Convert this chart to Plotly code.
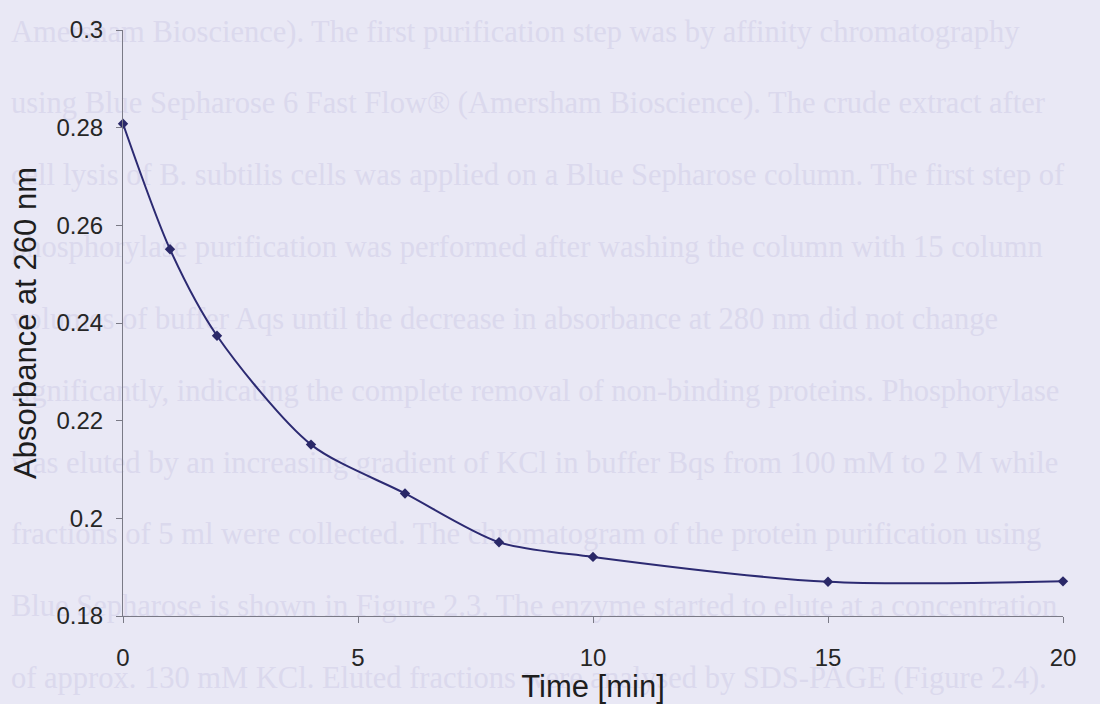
import plotly.graph_objects as go

# Data
time_min = [0, 1, 2, 4, 6, 8, 10, 15, 20]
absorbance = [0.2808, 0.2551, 0.2374, 0.2151, 0.2051, 0.1951, 0.1921, 0.1870, 0.1871]

x_ticks = [0, 5, 10, 15, 20]
y_ticks = [0.18, 0.2, 0.22, 0.24, 0.26, 0.28, 0.3]
y_tick_labels = ["0.18", "0.2", "0.22", "0.24", "0.26", "0.28", "0.3"]

# Faint bleed-through text of the scanned page
page_lines = [
    "Amersham Bioscience). The first purification step was by affinity chromatography",
    "using Blue Sepharose 6 Fast Flow® (Amersham Bioscience). The crude extract after",
    "cell lysis of B. subtilis cells was applied on a Blue Sepharose column. The first step of",
    "phosphorylase purification was performed after washing the column with 15 column",
    "volumes of buffer Aqs until the decrease in absorbance at 280 nm did not change",
    "significantly, indicating the complete removal of non-binding proteins. Phosphorylase",
    "was eluted by an increasing gradient of KCl in buffer Bqs from 100 mM to 2 M while",
    "fractions of 5 ml were collected. The chromatogram of the protein purification using",
    "Blue Sepharose is shown in Figure 2.3. The enzyme started to elute at a concentration",
    "of approx. 130 mM KCl. Eluted fractions were analysed by SDS-PAGE (Figure 2.4).",
]

W, H = 1100, 704
ML, MR, MT, MB = 123, 37, 30, 85
BG = "#e9e8f5"

fig = go.Figure()
fig.add_trace(go.Scatter(
    x=time_min, y=absorbance, mode="lines+markers",
    line=dict(color="#2c2a72", width=2, shape="spline", smoothing=0.8),
    marker=dict(symbol="diamond", size=8, color="#2a2868"),
    showlegend=False, cliponaxis=False,
))

# page text as shapes with labels (drawn below the traces)
pw = W - ML - MR
ph = H - MT - MB
for i, txt in enumerate(page_lines):
    yc = 28 + 72.2 * i  # pixel from top
    y_paper = (H - MB - yc) / ph
    x0 = (8 - ML) / pw
    x1 = (W - 4 - ML) / pw
    fig.add_shape(
        type="rect", xref="paper", yref="paper",
        x0=x0, x1=x1, y0=y_paper - 0.02, y1=y_paper + 0.02,
        line=dict(width=0), fillcolor="rgba(0,0,0,0)", layer="below",
        label=dict(text=txt, textposition="middle left",
                   font=dict(family="Liberation Serif", size=30.5, color="#dbd9ed"),
                   padding=0),
    )

tick_font = dict(family="Liberation Sans, Arial", size=24, color="#262626")
title_font = dict(family="Liberation Sans, Arial", size=31, color="#1e1e1e")
fig.update_layout(
    width=W, height=H,
    margin=dict(l=ML, r=MR, t=MT, b=MB),
    paper_bgcolor=BG, plot_bgcolor=BG,
    font=dict(family="Liberation Sans, Arial", color="#2b2b2b"),
    xaxis=dict(
        range=[0, 20], tickvals=x_ticks, showgrid=False, zeroline=False,
        showline=True, linecolor="#7a7a86", linewidth=1,
        ticks="outside", ticklen=6, tickcolor="#7a7a86",
        tickfont=tick_font, ticklabelstandoff=14,
        title=dict(text="Time [min]", font=title_font, standoff=0),
    ),
    yaxis=dict(
        range=[0.18, 0.3], tickvals=y_ticks, ticktext=y_tick_labels,
        showgrid=False, zeroline=False,
        showline=True, linecolor="#7a7a86", linewidth=1,
        ticks="outside", ticklen=6, tickcolor="#7a7a86",
        tickfont=tick_font, ticklabelstandoff=8,
        title=dict(text="Absorbance at 260 nm", font=title_font, standoff=10),
    ),
)

fig.write_html(
    "out.html",
    config={"displayModeBar": False},
    post_script="document.body.style.margin='0px';document.body.style.background='#e9e8f5';",
)
